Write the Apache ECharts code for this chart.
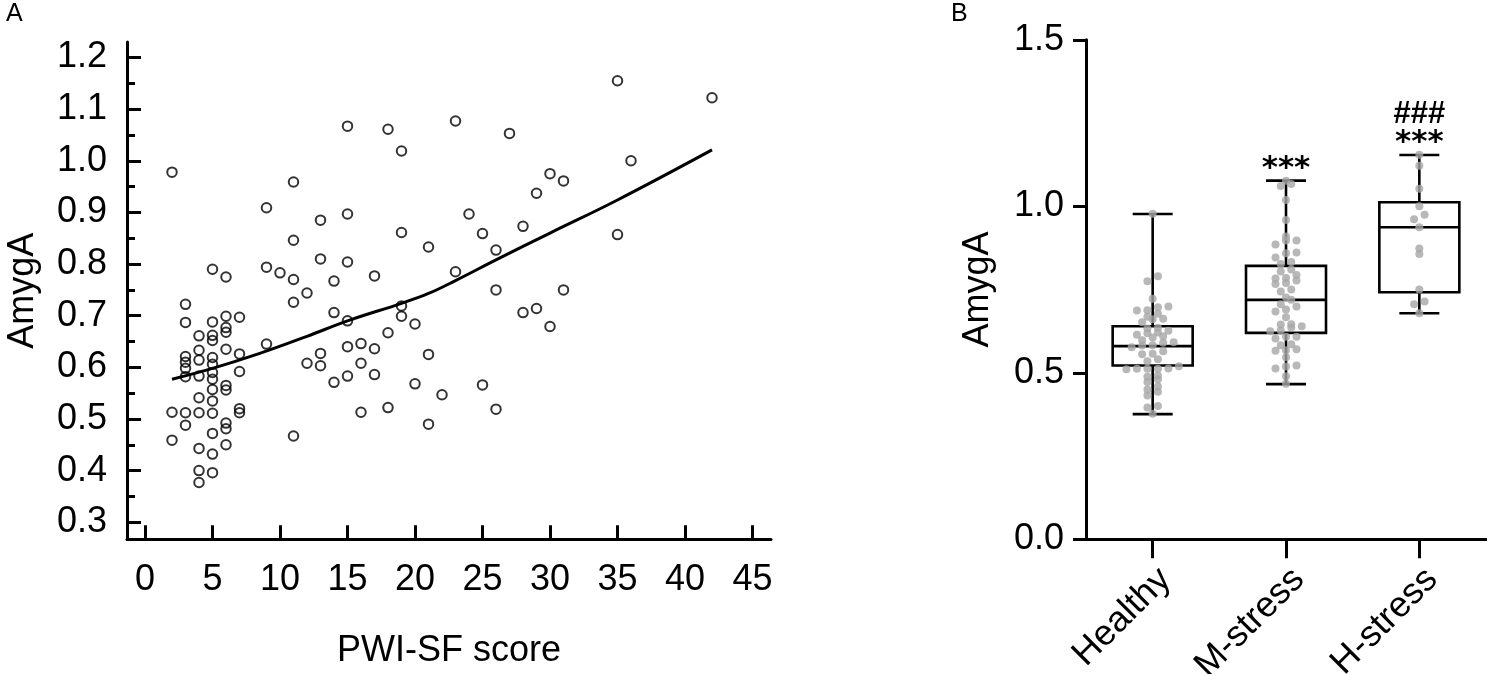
<!DOCTYPE html>
<html>
<head>
<meta charset="utf-8">
<script src="https://cdn.jsdelivr.net/npm/echarts@6/dist/echarts.min.js"></script>
<style>
  html, body { margin: 0; padding: 0; background: #fff; }
  #main { width: 1487px; height: 674px; }
</style>
</head>
<body>
<div id="main"></div>
<script>
// ---- panel A: PWI-SF score vs AmygA ----
var pwiScore = [
  2, 2, 2,
  3, 3, 3, 3, 3, 3, 3, 3,
  4, 4, 4, 4, 4, 4, 4, 4, 4,
  5, 5, 5, 5, 5, 5, 5, 5, 5, 5, 5, 5, 5, 5,
  6, 6, 6, 6, 6, 6, 6, 6, 6, 6,
  7, 7, 7, 7, 7,
  9, 9, 9, 10, 11, 11, 11, 11, 11, 12, 12, 13, 13, 13, 13,
  14, 14, 14, 15, 15, 15, 15, 15, 15, 16, 16, 16, 17, 17, 17,
  18, 18, 18, 19, 19, 19, 19, 20, 20, 21, 21, 21, 22, 23, 23,
  24, 25, 25, 26, 26, 26,
  27, 28, 28, 29, 29, 30, 30, 31, 31, 35, 35, 36, 42
];
var amygA = [
  0.978, 0.513, 0.459,
  0.722, 0.687, 0.621, 0.610, 0.598, 0.582, 0.512, 0.488,
  0.661, 0.633, 0.614, 0.583, 0.541, 0.512, 0.443, 0.400, 0.377,
  0.790, 0.688, 0.662, 0.652, 0.619, 0.606, 0.590, 0.577, 0.557, 0.535, 0.511, 0.472, 0.432, 0.396,
  0.775, 0.699, 0.677, 0.668, 0.635, 0.565, 0.556, 0.492, 0.481, 0.450,
  0.697, 0.626, 0.592, 0.520, 0.512,
  0.909, 0.794, 0.645, 0.783, 0.959, 0.846, 0.770, 0.726, 0.467, 0.744, 0.608, 0.885, 0.810, 0.627, 0.603,
  0.767, 0.706, 0.571, 1.067, 0.897, 0.804, 0.690, 0.640, 0.583, 0.646, 0.608, 0.513, 0.777, 0.636, 0.586,
  1.061, 0.667, 0.522, 1.019, 0.861, 0.719, 0.699, 0.684, 0.568, 0.833, 0.625, 0.490, 0.547, 1.077, 0.785,
  0.897, 0.859, 0.566, 0.827, 0.750, 0.519,
  1.053, 0.873, 0.706, 0.937, 0.714, 0.975, 0.679, 0.961, 0.750, 1.155, 0.857, 1.000, 1.122
];
// smoothed fit line
var fitX = [2, 5, 8.5, 12, 15, 19, 21, 23, 26, 30, 35, 42];
var fitY = [0.577, 0.598, 0.627, 0.660, 0.690, 0.724, 0.743, 0.768, 0.808, 0.860, 0.924, 1.021];
var xTicksA = [0, 5, 10, 15, 20, 25, 30, 35, 40, 45];
var yTicksA = [0.3, 0.4, 0.5, 0.6, 0.7, 0.8, 0.9, 1.0, 1.1, 1.2];
var yMinorA = [0.35, 0.45, 0.55, 0.65, 0.75, 0.85, 0.95, 1.05, 1.15];

// ---- panel B: groups ----
var groupNames = ['Healthy', 'M-stress', 'H-stress'];
var groupCutoffs = [8, 26];   // highest PWI-SF score in Healthy / M-stress
var boxMin = [0.376, 0.466, 0.679];
var boxQ1 = [0.522, 0.620, 0.742];
var boxMedian = [0.580, 0.719, 0.937];
var boxQ3 = [0.640, 0.821, 1.012];
var boxMax = [0.977, 1.077, 1.154];
var markGroup = [1, 2, 2];
var markValue = [1.112, 1.189, 1.276];
var markText = ['***', '***', '###'];

var FONT = 'Liberation Sans, Arial, sans-serif';

var myChart = echarts.init(document.getElementById('main'));

var scatterA = pwiScore.map(function (s, i) { return [s, amygA[i]]; });
var fitLine = fitX.map(function (x, i) { return [x, fitY[i]]; });

// split values into groups by score
var groups = [[], [], []];
pwiScore.forEach(function (s, i) {
  var g = s <= groupCutoffs[0] ? 0 : (s <= groupCutoffs[1] ? 1 : 2);
  groups[g].push(amygA[i]);
});

// column scatter: values close together go side by side in one row
function swarm(values, cat) {
  var sorted = values.slice().sort(function (a, b) { return a - b; });
  var out = [], row = [];
  function flush() {
    for (var i = 0; i < row.length; i++) {
      out.push({ value: [cat, row[i]], symbolOffset: [(i - (row.length - 1) / 2) * 10.5, 0] });
    }
    row = [];
  }
  sorted.forEach(function (v) {
    if (row.length && v - row[0] > 0.016) flush();
    row.push(v);
  });
  flush();
  return out;
}
var dotsB = [];
groups.forEach(function (vals, g) { dotsB = dotsB.concat(swarm(vals, g)); });

var boxData = groupNames.map(function (n, i) {
  return [i, boxMin[i], boxQ1[i], boxMedian[i], boxQ3[i], boxMax[i]];
});
var markData = markGroup.map(function (g, i) { return [g, markValue[i], i]; });

var axisLine = { show: true, onZero: false, lineStyle: { color: '#000', width: 3 } };
var labelStyle = { color: '#000', fontSize: 36, fontFamily: FONT };

option = {
  animation: false,
  backgroundColor: '#fff',
  graphic: [
    { type: 'text', left: 6, top: 2, style: { text: 'A', font: '25px ' + FONT, fill: '#000' } },
    { type: 'text', left: 951, top: 2, style: { text: 'B', font: '25px ' + FONT, fill: '#000' } }
  ],
  grid: [
    { left: 127, top: 42, width: 644, height: 497.3, outerBoundsMode: 'none' },
    { left: 1086, top: 39.8, width: 400, height: 499.5, outerBoundsMode: 'none' }
  ],
  xAxis: [
    {
      type: 'value', gridIndex: 0, min: -1.333, max: 46.37,
      name: 'PWI-SF score', nameLocation: 'middle', nameGap: 94,
      nameTextStyle: labelStyle,
      axisLine: axisLine,
      axisTick: { show: true, inside: true, length: 14, customValues: xTicksA, lineStyle: { color: '#000', width: 3 } },
      axisLabel: { customValues: xTicksA, margin: 23, color: '#000', fontSize: 36, fontFamily: FONT },
      splitLine: { show: false }
    },
    {
      type: 'category', gridIndex: 1, data: groupNames,
      axisLine: axisLine,
      axisTick: { show: true, alignWithLabel: true, length: 19, lineStyle: { color: '#000', width: 3 } },
      axisLabel: {
        rotate: 45, margin: 22, interval: 0, verticalAlign: 'top',
        color: '#000', fontSize: 36, fontFamily: FONT
      },
      splitLine: { show: false }
    }
  ],
  yAxis: [
    {
      type: 'value', gridIndex: 0, position: 'left', min: 0.267, max: 1.23,
      name: 'AmygA', nameLocation: 'middle', nameGap: 86, nameRotate: 90,
      nameTextStyle: labelStyle,
      axisLine: axisLine,
      axisTick: { show: true, inside: true, length: 14, customValues: yTicksA, lineStyle: { color: '#000', width: 3 } },
      axisLabel: {
        customValues: yTicksA, margin: 20, color: '#000', fontSize: 36, fontFamily: FONT,
        formatter: function (v) { return v.toFixed(1); }
      },
      splitLine: { show: false }
    },
    {
      // minor ticks of panel A
      type: 'value', gridIndex: 0, position: 'left', offset: 0, min: 0.267, max: 1.23,
      axisLine: { show: false, onZero: false },
      axisTick: { show: true, inside: true, length: 8, customValues: yMinorA, lineStyle: { color: '#000', width: 3 } },
      axisLabel: { show: false },
      splitLine: { show: false }
    },
    {
      type: 'value', gridIndex: 1, position: 'left', min: 0, max: 1.5, interval: 0.5,
      name: 'AmygA', nameLocation: 'middle', nameGap: 90, nameRotate: 90,
      nameTextStyle: labelStyle,
      axisLine: axisLine,
      axisTick: { show: true, length: 13, lineStyle: { color: '#000', width: 3 } },
      axisLabel: {
        margin: 22, color: '#000', fontSize: 36, fontFamily: FONT,
        formatter: function (v) { return v.toFixed(1); }
      },
      splitLine: { show: false }
    }
  ],
  series: [
    {
      name: 'fit', type: 'line', xAxisIndex: 0, yAxisIndex: 0,
      data: fitLine, smooth: 0.4, showSymbol: false, symbol: 'none',
      lineStyle: { color: '#000', width: 3 }, z: 2
    },
    {
      name: 'subjects', type: 'scatter', xAxisIndex: 0, yAxisIndex: 0,
      data: scatterA, symbol: 'circle', symbolSize: 9.5,
      itemStyle: { color: 'rgba(0,0,0,0)', borderColor: '#000', borderWidth: 2 }, z: 3
    },
    {
      name: 'box', type: 'custom', xAxisIndex: 1, yAxisIndex: 2,
      data: boxData,
      renderItem: function (params, api) {
        var c = api.value(0);
        var band = api.size([1, 0])[0];
        var xc = api.coord([c, 0])[0];
        var yMin = api.coord([c, api.value(1)])[1];
        var yQ1 = api.coord([c, api.value(2)])[1];
        var yMed = api.coord([c, api.value(3)])[1];
        var yQ3 = api.coord([c, api.value(4)])[1];
        var yMax = api.coord([c, api.value(5)])[1];
        var bw = band * 0.6, cw = band * 0.3;
        var st = { stroke: '#000', lineWidth: 2.6, fill: null };
        return {
          type: 'group',
          children: [
            { type: 'line', shape: { x1: xc, y1: yMax, x2: xc, y2: yQ3 }, style: st },
            { type: 'line', shape: { x1: xc, y1: yQ1, x2: xc, y2: yMin }, style: st },
            { type: 'line', shape: { x1: xc - cw / 2, y1: yMax, x2: xc + cw / 2, y2: yMax }, style: st },
            { type: 'line', shape: { x1: xc - cw / 2, y1: yMin, x2: xc + cw / 2, y2: yMin }, style: st },
            { type: 'rect', shape: { x: xc - bw / 2, y: yQ3, width: bw, height: yQ1 - yQ3 }, style: { stroke: '#000', lineWidth: 2.6, fill: 'none' } },
            { type: 'line', shape: { x1: xc - bw / 2, y1: yMed, x2: xc + bw / 2, y2: yMed }, style: st }
          ]
        };
      },
      z: 2
    },
    {
      name: 'dots', type: 'scatter', xAxisIndex: 1, yAxisIndex: 2,
      data: dotsB, symbol: 'circle', symbolSize: 8,
      itemStyle: { color: '#a6a6a6' }, z: 3
    },
    {
      name: 'marks', type: 'custom', xAxisIndex: 1, yAxisIndex: 2,
      data: markData,
      renderItem: function (params, api) {
        var p = api.coord([api.value(0), api.value(1)]);
        var t = markText[api.value(2)];
        return {
          type: 'text',
          style: {
            x: p[0], y: p[1], text: t, align: 'center', verticalAlign: 'middle',
            font: (t === '***' ? 'bold 31px DejaVu Sans' : 'bold 31px ' + FONT), fill: '#000'
          }
        };
      },
      z: 4
    }
  ]
};

myChart.setOption(option);
</script>
</body>
</html>
